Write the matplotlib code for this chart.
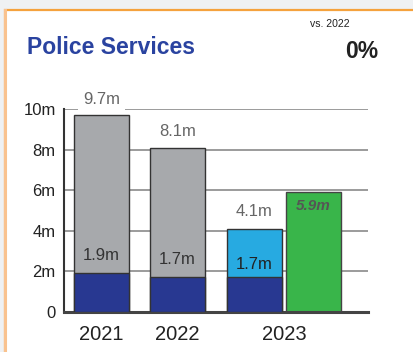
import matplotlib
matplotlib.use("Agg")
import matplotlib.pyplot as plt
from matplotlib.patches import Rectangle

plt.rcParams["font.family"] = ["Liberation Sans", "DejaVu Sans"]

# values in millions
years = ["2021", "2022", "2023"]
base_vals = [1.9, 1.7, 1.7]          # navy lower segment
prior_totals = [9.7, 8.1]            # grey totals, 2021-2022
current_total = 4.1                  # light blue 2023 total
projected = 5.9                      # green 2023 bar
yticks = [0, 2, 4, 6, 8, 10]
ytick_labels = ["0", "2m", "4m", "6m", "8m", "10m"]

title = "Police Services"
change_label = "vs. 2022"
change_value = "0%"

GREY = "#a7a9ac"
NAVY = "#283891"
LIGHT_BLUE = "#27aae1"
GREEN = "#39b54a"
EDGE = "#333333"
W = 0.72

fig = plt.figure(figsize=(4.13, 3.52), dpi=100)
fig.patch.set_facecolor("#eff1f3")

# white card with orange border
card = Rectangle((5 / 413, -0.1), 1.2, (352 - 9.5) / 352 + 0.1,
                 transform=fig.transFigure, facecolor="white",
                 edgecolor="#f5a23d", linewidth=1.6, zorder=-2)
fig.add_artist(card)
fig.add_artist(plt.Line2D([5 / 413, 5 / 413], [0, (352 - 10) / 352],
                          transform=fig.transFigure, color="#f9c28e", lw=2.2,
                          zorder=-1))

fig.text(27 / 413, 1 - 48 / 352, title, color="#2a43a0", fontsize=16.5,
         fontweight="bold", va="center", ha="left")
fig.text(330 / 413, 1 - 24 / 352, change_label, color="#222222", fontsize=7.6,
         va="center", ha="center")
fig.text(378 / 413, 1 - 52 / 352, change_value, color="#222222", fontsize=16.5,
         fontweight="bold", va="center", ha="right")

ax = fig.add_axes([64 / 413, 40 / 352, 304 / 413, 203 / 352])
ax.set_xlim(0, 4)
ax.set_ylim(0, 10)

for y in yticks[1:]:
    ax.axhline(y, color="#8a8a8a", lw=1.2, zorder=1)

x_prior = [0.493, 1.49]
x_cur = 2.507
x_proj = x_cur + W + 4 / 76

for x, b, t in zip(x_prior, base_vals[:2], prior_totals):
    ax.bar(x, t, W, color=GREY, edgecolor=EDGE, lw=1, zorder=2)
    ax.bar(x, b, W, color=NAVY, edgecolor=EDGE, lw=1, zorder=3)
    ax.text(x, b + 0.9, f"{b}m", ha="center", va="center", fontsize=12,
            color="#333333", zorder=4)
    ax.text(x, t + 0.78, f"{t}m", ha="center", va="center", fontsize=12,
            color="#666666", zorder=5, clip_on=False,
            bbox=dict(facecolor="white", edgecolor="none", pad=3.5))

ax.bar(x_cur, current_total, W, color=LIGHT_BLUE, edgecolor=EDGE, lw=1, zorder=2)
ax.bar(x_cur, base_vals[2], W, color=NAVY, edgecolor=EDGE, lw=1, zorder=3)
ax.text(x_cur, base_vals[2] + 0.62, f"{base_vals[2]}m", ha="center",
        va="center", fontsize=12, color="#222222", zorder=4)
ax.text(x_cur, current_total + 0.84, f"{current_total}m", ha="center",
        va="center", fontsize=12, color="#666666", zorder=4)

ax.bar(x_proj, projected, W, color=GREEN, edgecolor="#444444", lw=1, zorder=2)
ax.text(x_proj, projected - 0.68, f"{projected}m", ha="center", va="center",
        fontsize=11, color="#555555", fontweight="bold", style="italic", zorder=4)

ax.set_yticks(yticks)
ax.set_yticklabels(ytick_labels, fontsize=12, color="#222222")
ax.set_xticks([x_prior[0], x_prior[1], (x_cur + x_proj) / 2])
ax.set_xticklabels(years, fontsize=14.5, color="#222222")
ax.tick_params(axis="both", length=0)
ax.tick_params(axis="y", pad=6)
ax.tick_params(axis="x", pad=9)

for s in ("top", "right"):
    ax.spines[s].set_visible(False)
ax.spines["left"].set_color(EDGE)
ax.spines["left"].set_linewidth(1.5)
ax.spines["bottom"].set_color("#444444")
ax.spines["bottom"].set_linewidth(2.2)
ax.set_facecolor("none")

fig.savefig("out.png", dpi=100)
